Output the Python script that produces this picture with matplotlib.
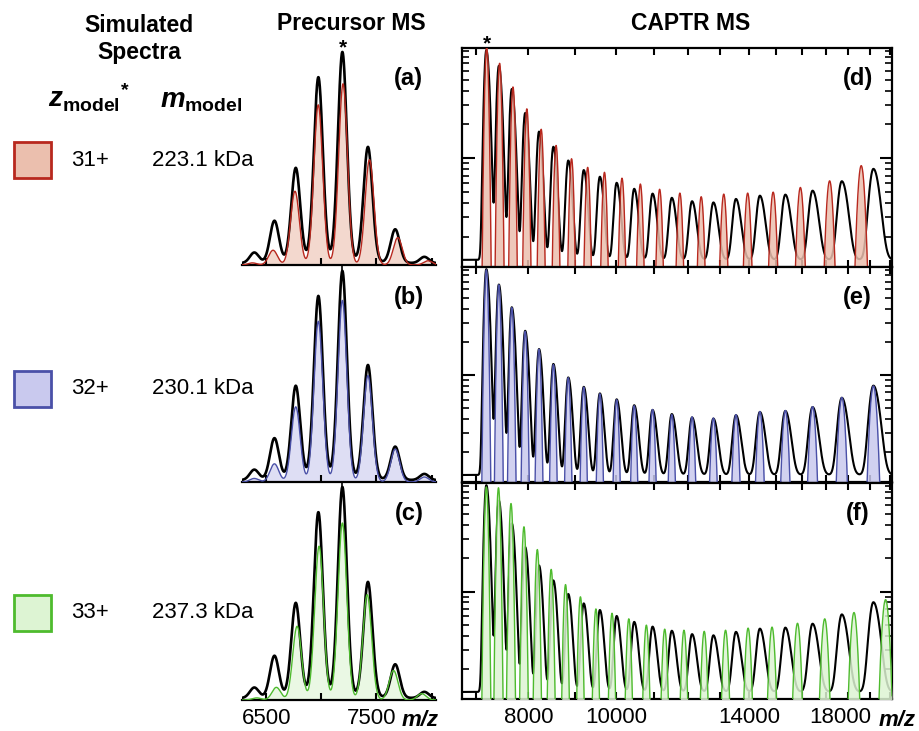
import numpy as np
import matplotlib
matplotlib.use("Agg")
import matplotlib.pyplot as plt
from matplotlib.patches import Rectangle
from matplotlib.transforms import ScaledTranslation
from matplotlib.ticker import NullFormatter, NullLocator, LogLocator, FixedLocator

plt.rcParams['font.family'] = ['Liberation Sans', 'DejaVu Sans']
plt.rcParams['mathtext.fontset'] = 'custom'
plt.rcParams['mathtext.rm'] = 'Liberation Sans:bold'
plt.rcParams['mathtext.it'] = 'Liberation Sans:italic:bold'
plt.rcParams['mathtext.bf'] = 'Liberation Sans:bold'

# ---- dati ----
model_z = [31, 32, 33]                  # carica del modello
model_mass = [223100, 230100, 237300]   # Da
model_labels = ["223.1 kDa", "230.1 kDa", "237.3 kDa"]
edge_cols = ["#B8281E", "#4A50A8", "#4EBB2E"]
fill_cols = ["#EBBFAE", "#C9C9EE", "#DDF4D3"]
panel_prec = ["(a)", "(b)", "(c)"]
panel_captr = ["(d)", "(e)", "(f)"]

# precursore sperimentale: 230.1 kDa, cariche 36..29
exp_mass = 230100
prec_exp_z = [36, 35, 34, 33, 32, 31, 30, 29]
prec_exp_h = [0.05, 0.20, 0.45, 0.88, 1.00, 0.55, 0.16, 0.03]

# precursore simulato (cariche e altezze per ciascun modello)
prec_mod_z = [[35, 34, 33, 32, 31, 30, 29, 28],
              [36, 35, 34, 33, 32, 31, 30, 29],
              [37, 36, 35, 34, 33, 32, 31, 30]]
prec_mod_h = [[0.01, 0.07, 0.35, 0.76, 0.86, 0.50, 0.13, 0.02],
              [0.017, 0.087, 0.36, 0.77, 0.87, 0.51, 0.158, 0.024],
              [0.01, 0.06, 0.35, 0.73, 0.84, 0.50, 0.14, 0.03]]

# CAPTR sperimentale: cariche 32..12
captr_exp_z = list(range(32, 11, -1))
captr_exp_h = [0.90, 0.65, 0.40, 0.24, 0.16, 0.114, 0.083, 0.066, 0.056, 0.048, 0.041,
               0.036, 0.032, 0.029, 0.028, 0.031, 0.034, 0.035, 0.039, 0.050, 0.068]

# CAPTR simulato
captr_mod_z = [list(range(31, 11, -1)), list(range(32, 11, -1)), list(range(33, 11, -1))]
captr_mod_h = [
    [0.966, 0.698, 0.43, 0.275, 0.181, 0.130, 0.099, 0.083, 0.075, 0.0665, 0.059, 0.053,
     0.049, 0.0455, 0.048, 0.049, 0.050, 0.055, 0.063, 0.086],
    [0.90, 0.66, 0.41, 0.25, 0.172, 0.125, 0.095, 0.078, 0.068, 0.060, 0.053, 0.049,
     0.044, 0.042, 0.041, 0.044, 0.047, 0.048, 0.052, 0.063, 0.080],
    [0.88, 0.865, 0.624, 0.385, 0.24, 0.159, 0.116, 0.090, 0.070, 0.064, 0.057, 0.050,
     0.046, 0.045, 0.044, 0.045, 0.047, 0.048, 0.052, 0.057, 0.065, 0.085],
]

W, H = 919, 731
fig = plt.figure(figsize=(W / 100, H / 100), dpi=100)


def rect(x0, y0, x1, y1):
    return [x0 / W, 1 - y1 / H, (x1 - x0) / W, (y1 - y0) / H]


def ftext(x, y, s, **kw):
    fig.text(x / W, 1 - y / H, s, **kw)


def shift_label(ax, text, dx_px):
    fig.canvas.draw()
    for lab in ax.get_xticklabels():
        if lab.get_text() == text:
            lab.set_transform(lab.get_transform() + ScaledTranslation(dx_px / 100, 0, fig.dpi_scale_trans))


# ---- forme dei picchi ----
xp = np.linspace(6280, 8040, 3000)
xc = np.geomspace(6761, 20100, 8000)
uc = np.log10(xc)


def prec_model(z, h, m):
    y = np.zeros_like(xp)
    for zz, hh in zip(z, h):
        y += hh * np.exp(-0.5 * ((xp - m / zz) / 40.0) ** 2)
    return y


def prec_black():
    y = np.full_like(xp, 0.008)
    for zz, hh in zip(prec_exp_z, prec_exp_h):
        d = xp - exp_mass / zz
        y += hh * (0.95 * np.exp(-0.5 * (d / 41.0) ** 2) + 0.05 / (1 + (d / 45.0) ** 2))
    return y


def sig(c):
    # larghezza in decadi, cresce con m/z
    return 0.00166 * (c / 7191.0) ** 0.75


def captr_model(z, h, m):
    y = np.zeros_like(xc)
    for zz, hh in zip(z, h):
        c = m / zz
        y += hh * np.exp(-0.5 * ((uc - np.log10(c)) / sig(c)) ** 2)
    return y


def captr_black():
    y = np.full_like(xc, 0.0125)
    for zz, hh in zip(captr_exp_z, captr_exp_h):
        c = exp_mass / zz
        d = uc - np.log10(c)
        s = np.where(d < 0, 1.2 * sig(c), 1.7 * sig(c))
        y += hh * np.exp(-0.5 * (d / s) ** 2)
    return y


pb = prec_black()
cb = captr_black()

prec_rows = [(48, 265), (267, 482), (483, 700)]
captr_rows = [(48, 267), (267, 482), (483, 699)]
captr_ticks = list(range(7000, 20001, 1000))
captr_labs = {8000: "8000", 10000: "10000", 14000: "14000", 18000: "18000"}

for i in range(3):
    # precursore
    ax = fig.add_axes(rect(242, prec_rows[i][0], 436, prec_rows[i][1]))
    ym = prec_model(prec_mod_z[i], prec_mod_h[i], model_mass[i])
    ax.fill_between(xp, 0, ym, color=fill_cols[i], alpha=0.6, lw=0, zorder=1)
    ax.plot(xp, pb, color="black", lw=1.9, zorder=2)
    ax.plot(xp, ym, color=edge_cols[i], lw=1.0, zorder=3)
    ax.set_xlim(6280, 8040)
    ax.set_ylim(0, 1.03)
    for sp in ["top", "left", "right"]:
        ax.spines[sp].set_visible(False)
    ax.spines["bottom"].set_linewidth(1.6)
    ax.set_yticks([])
    ax.set_xticks([6500, 7000, 7500, 8000])
    ax.tick_params(axis="x", direction="in", length=5, width=1.5, pad=6, labelsize=16)
    if i < 2:
        # segno sotto l'asse in corrispondenza del precursore isolato
        ax.set_xticks([exp_mass / 32], minor=True)
        ax.tick_params(axis="x", which="minor", direction="out", length=8, width=1.2)
    if i == 2:
        ax.set_xticklabels(["6500", "", "7500", ""])
        shift_label(ax, "7500", -5)
    else:
        ax.set_xticklabels([])
    ax.patch.set_alpha(0)
    ax.text(0.86, 0.86, panel_prec[i], transform=ax.transAxes, ha="center", va="center",
            fontsize=17, fontweight="bold")

    # CAPTR
    ax2 = fig.add_axes(rect(462, captr_rows[i][0], 892, captr_rows[i][1]))
    ym2 = np.maximum(captr_model(captr_mod_z[i], captr_mod_h[i], model_mass[i]), 1e-6)
    ax2.plot(xc, cb, color="black", lw=1.5, zorder=2)
    ax2.fill_between(xc, 1e-6, ym2, color=fill_cols[i], alpha=0.85, lw=0, zorder=3)
    ax2.plot(xc, ym2, color=edge_cols[i], lw=1.0, zorder=4)
    ax2.set_xscale("log")
    ax2.set_yscale("log")
    ax2.set_xlim(6761, 20100)
    ax2.set_ylim(0.0108, 0.955)
    ax2.xaxis.set_major_locator(FixedLocator(captr_ticks))
    ax2.xaxis.set_minor_locator(NullLocator())
    ax2.xaxis.set_minor_formatter(NullFormatter())
    ax2.yaxis.set_major_locator(LogLocator(base=10))
    ax2.yaxis.set_minor_locator(LogLocator(base=10, subs=np.arange(2, 10)))
    ax2.yaxis.set_major_formatter(NullFormatter())
    ax2.yaxis.set_minor_formatter(NullFormatter())
    ax2.tick_params(axis="x", which="major", direction="in", length=5, width=1.5,
                    top=True, pad=6, labelsize=16)
    ax2.tick_params(axis="y", which="major", direction="in", length=9, width=1.5,
                    right=True)
    ax2.tick_params(axis="y", which="minor", direction="in", length=5, width=1.2,
                    right=True)
    if i == 2:
        ax2.set_xticklabels([captr_labs.get(t, "") for t in captr_ticks])
        shift_label(ax2, "18000", -8)
    else:
        ax2.set_xticklabels([])
    for sp in ax2.spines.values():
        sp.set_linewidth(1.6)
    ax2.text(0.92, 0.86, panel_captr[i], transform=ax2.transAxes, ha="center",
             va="center", fontsize=17, fontweight="bold")

    # legenda a sinistra
    yc = [160, 389, 613][i]
    fig.patches.append(Rectangle((14 / W, 1 - (yc + 18) / H), 37 / W, 36 / H,
                                 transform=fig.transFigure, facecolor=fill_cols[i],
                                 edgecolor=edge_cols[i], lw=2))
    ftext(90, yc, f"{model_z[i]}+", ha="center", va="center", fontsize=16)
    ftext(152, yc, model_labels[i], ha="left", va="center", fontsize=16)

# titoli
ftext(139, 25, "Simulated", ha="center", va="center", fontsize=16.5, fontweight="bold")
ftext(139, 53, "Spectra", ha="center", va="center", fontsize=16.5, fontweight="bold")
ftext(351, 23, "Precursor MS", ha="center", va="center", fontsize=16.5, fontweight="bold")
ftext(691, 23, "CAPTR MS", ha="center", va="center", fontsize=16.5, fontweight="bold")
ftext(48, 108, r"$\mathit{z}_{\mathrm{model}}{}^{*}$", ha="left", va="baseline", fontsize=20)
ftext(160, 108, r"$\mathit{m}_{\mathrm{model}}$", ha="left", va="baseline", fontsize=20)
ftext(343, 48, "*", ha="center", va="center", fontsize=15, fontweight="bold")
ftext(487, 44, "*", ha="center", va="center", fontsize=15, fontweight="bold")
ftext(402, 720, "m/z", ha="left", va="center", fontsize=16, fontweight="bold", fontstyle="italic")
ftext(879, 720, "m/z", ha="left", va="center", fontsize=16, fontweight="bold", fontstyle="italic")

fig.savefig("out.png", dpi=100)
